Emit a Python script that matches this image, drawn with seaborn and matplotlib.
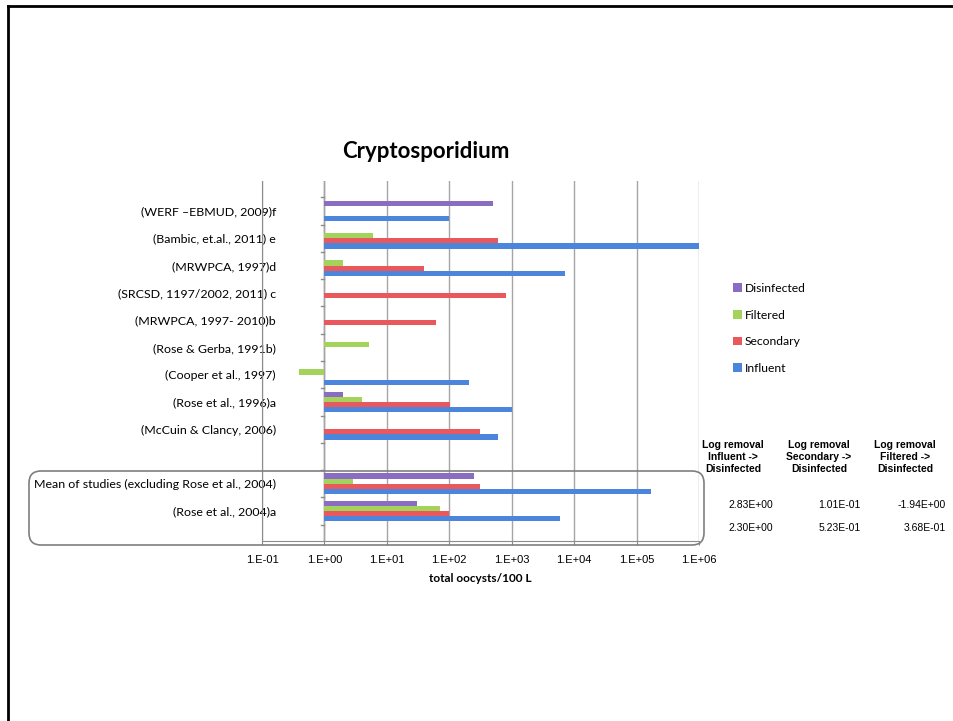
import numpy as np
import pandas as pd
import matplotlib
matplotlib.use("Agg")
import matplotlib.pyplot as plt
import seaborn as sns
from matplotlib.patches import FancyBboxPatch
from matplotlib.lines import Line2D

studies = ["(WERF \u2013EBMUD, 2009)f", "(Bambic, et.al., 2011) e", "(MRWPCA, 1997)d",
           "(SRCSD, 1197/2002, 2011) c", "(MRWPCA, 1997- 2010)b", "(Rose & Gerba, 1991b)",
           "(Cooper et al., 1997)", "(Rose et al., 1996)a", "(McCuin & Clancy, 2006)", " ",
           "Mean of studies (excluding Rose et al., 2004)", "(Rose et al., 2004)a"]
nan = np.nan
influent = [100, 1.0e6, 7200, nan, nan, nan, 204, 1020, 607, nan, 1.69e5, 6000]
secondary = [nan, 600, 40, 815, 62, nan, nan, 102, 310, nan, 316, 100]
filtered = [nan, 5.9, 2.0, nan, nan, 5.1, 0.39, 4.0, nan, nan, 2.9, 70]
disinfected = [500, nan, nan, nan, nan, nan, nan, 1.97, nan, nan, 250, 30]

series = ["Disinfected", "Filtered", "Secondary", "Influent"]
colors = {"Disinfected": "#8a6cc2", "Filtered": "#a3d35a", "Secondary": "#e9585c", "Influent": "#4c86dc"}
decades = [-1, 0, 1, 2, 3, 4, 5, 6]

removal_headers = ["Log removal\nInfluent ->\nDisinfected", "Log removal\nSecondary ->\nDisinfected",
                   "Log removal\nFiltered ->\nDisinfected"]
removal_mean = [2.83, 0.101, -1.94]
removal_rose = [2.30, 0.523, 0.368]

# long table, values on log10 scale so bars grow from 1 (like excel's crossing)
df = pd.DataFrame({"study": studies, "Influent": influent, "Secondary": secondary,
                   "Filtered": filtered, "Disinfected": disinfected})
long = df.melt(id_vars="study", var_name="kind", value_name="count").dropna()
long["logc"] = np.log10(long["count"])

W, H = 954, 721
fig = plt.figure(figsize=(W / 100, H / 100), dpi=100)
ax = fig.add_axes([262 / W, 1 - 541 / H, (699 - 262) / W, (541 - 181) / H])

sns.barplot(data=long, x="logc", y="study", hue="kind", order=studies, hue_order=series,
            palette=colors, orient="h", width=0.76, errorbar=None, saturation=1,
            linewidth=0, ax=ax)
handles, labels = ax.get_legend_handles_labels()
ax.get_legend().remove()

ax.set_xlim(-1, 6)
ax.set_xticks(decades)
ax.set_xticklabels([f"1.E{d:+03d}" for d in decades], family="Liberation Sans", fontsize=8)
ax.tick_params(axis="x", length=3, color="#888888", pad=7)
ax.set_yticks(range(len(studies)))
ax.set_yticklabels(studies, family="Lato", fontsize=8.9)
ax.tick_params(axis="y", length=0, pad=-10)
ax.set_xlabel("total oocysts/100 L", family="Lato", fontweight="bold", fontsize=8.5, labelpad=6)
ax.set_ylabel("")
ax.set_axisbelow(True)
ax.grid(axis="x", color="#a5a5a5", lw=1)
ax.grid(axis="y", visible=False)
for s in ["top", "right"]:
    ax.spines[s].set_visible(False)
for s in ["left", "bottom"]:
    ax.spines[s].set_color("#8c8c8c")
ax.axvline(0, color="#8c8c8c", lw=1, zorder=0.5)
for b in np.arange(-0.5, len(studies)):
    ax.plot([-0.05, 0], [b, b], color="#8c8c8c", lw=1, clip_on=False)

fig.text(426 / W, 1 - 152 / H, "Cryptosporidium", family="Lato", fontweight="bold",
         fontsize=16, ha="center", va="center")

fig.legend(handles, labels, loc="upper left", bbox_to_anchor=(728 / W, 1 - 278 / H),
           frameon=False, prop={"family": "Lato", "size": 8.7}, handlelength=0.8,
           handleheight=0.75, handletextpad=0.2, labelspacing=1.3, borderaxespad=0)

for cx, head in zip([733, 819, 905], removal_headers):
    fig.text(cx / W, 1 - 457 / H, head, family="Liberation Sans", fontweight="bold",
             fontsize=7.5, ha="center", va="center", linespacing=1.3)
for rx, m, r in zip([773, 861, 946], removal_mean, removal_rose):
    fig.text(rx / W, 1 - 505 / H, f"{m:.2E}", family="Liberation Sans", fontsize=7.5,
             ha="right", va="center")
    fig.text(rx / W, 1 - 528 / H, f"{r:.2E}", family="Liberation Sans", fontsize=7.5,
             ha="right", va="center")

# rounded frame around the two summary rows, slide border
fig.patches.append(FancyBboxPatch((0.29, 1.76), 6.75, 0.74, boxstyle="round,pad=0,rounding_size=0.12",
                                  transform=fig.dpi_scale_trans, fill=False, ec="#7f7f7f", lw=1.2))
fig.lines.append(Line2D([0.08, 9.54], [7.155, 7.155], transform=fig.dpi_scale_trans, color="black", lw=2))
fig.lines.append(Line2D([0.08, 0.08], [0, 7.155], transform=fig.dpi_scale_trans, color="black", lw=2))

fig.savefig("out.png", dpi=100)
